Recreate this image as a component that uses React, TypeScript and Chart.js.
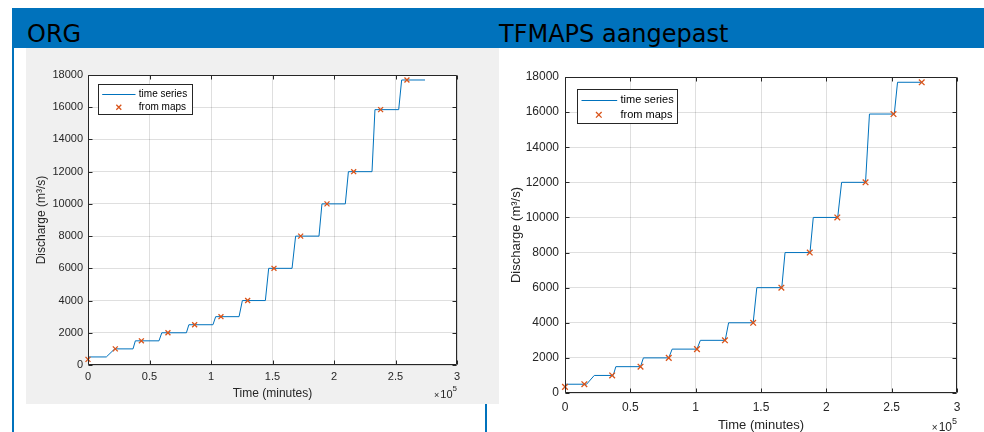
import React, { useEffect, useRef } from "react";
import { Chart, registerables } from "chart.js";

Chart.register(...registerables);

// ---------- DATA ----------
// ORG panel: time series (step curve) vertices
const orgTimes = [0, 14900, 21700, 36600, 38500, 57700, 60000, 80000, 82000, 101600, 103800, 122800, 125500, 144200, 146900, 165900, 168800, 187800, 190200, 209200, 211700, 230900, 233300, 252600, 255000, 274000];
const orgFlows = [500, 500, 1000, 1000, 1500, 1500, 2000, 2000, 2500, 2500, 3000, 3000, 4000, 4000, 6000, 6000, 8000, 8000, 10000, 10000, 12000, 12000, 15850, 15850, 17690, 17690];
// ORG panel: values from maps
const orgMapTimes = [0, 22200, 43400, 65000, 86700, 108100, 129800, 151200, 172900, 194300, 216000, 237900, 259300];
const orgMapFlows = [350, 1000, 1500, 2000, 2500, 3000, 4000, 6000, 8000, 10000, 12000, 15850, 17690];

// TFMAPS aangepast panel: time series
const tfTimes = [0, 16500, 22400, 36900, 38900, 57800, 60000, 79400, 82000, 101000, 103600, 122600, 125200, 144000, 146800, 165900, 168400, 187500, 190000, 208700, 211700, 230000, 233000, 252000, 254500, 272500];
const tfFlows = [500, 500, 1000, 1000, 1500, 1500, 2000, 2000, 2500, 2500, 3000, 3000, 4000, 4000, 6000, 6000, 8000, 8000, 10000, 10000, 12000, 12000, 15890, 15890, 17700, 17700];
// TFMAPS aangepast panel: values from maps
const tfMapTimes = [0, 14800, 36100, 57800, 79400, 101000, 122400, 144000, 165600, 187300, 208400, 230000, 251400, 273000];
const tfMapFlows = [350, 500, 1000, 1500, 2000, 2500, 3000, 4000, 6000, 8000, 10000, 12000, 15890, 17700];

const panelTitles = ["ORG", "TFMAPS aangepast"];
const seriesLabels = ["time series", "from maps"];
const xAxisTitle = "Time (minutes)";
const yAxisTitle = "Discharge (m\u00B3/s)";
const xMin = 0;
const xMax = 300000;
const xStep = 50000;
const xExponent = 5;
const yMin = 0;
const yMax = 18000;
const yStep = 2000;

// ---------- STYLE ----------
const FONT = '"Liberation Sans", Arial, Helvetica, sans-serif';
const AXIS_COLOR = "#262626";
const LINE_COLOR = "#0072BD";
const MARK_COLOR = "#D95319";
const GRID_COLOR = "rgba(38,38,38,0.15)";
const BLUE = "#0072bc";

type Cfg = {
  width: number;
  height: number;
  bg: string;
  pad: { top: number; right: number };
  yWidth: number;
  xHeight: number;
  tickFont: number;
  titleFont: number;
  legendFont: number;
  markerR: number;
  xTickPad: number;
  yTickPad: number;
  xTitlePad: number;
  yTitlePad: number;
  legend: { dx: number; dy: number; w: number; h: number; r1: number; r2: number; l0: number; l1: number; mx: number; tx: number };
  exp: { y10: number; y5: number };
};

const matlabPlugin = {
  id: "matlabDecor",
  beforeDraw(chart: any, _args: any, opts: any) {
    const { ctx, chartArea: a, width, height } = chart;
    ctx.save();
    ctx.fillStyle = opts.bg;
    ctx.fillRect(0, 0, width, height);
    ctx.fillStyle = "#ffffff";
    ctx.fillRect(a.left, a.top, a.right - a.left, a.bottom - a.top);
    ctx.restore();
  },
  afterDraw(chart: any, _args: any, opts: any) {
    const cfg: Cfg = opts.cfg;
    const { ctx, chartArea: a } = chart;
    const xs = chart.scales.x;
    const ys = chart.scales.y;
    const tl = 4;
    ctx.save();
    ctx.strokeStyle = AXIS_COLOR;
    ctx.lineWidth = 1;
    const L = Math.round(a.left) + 0.5;
    const R = Math.round(a.right) - 0.5;
    const T = Math.round(a.top) + 0.5;
    const B = Math.round(a.bottom) - 0.5;
    ctx.beginPath();
    ctx.rect(L, T, R - L, B - T);
    ctx.stroke();
    ctx.beginPath();
    xs.ticks.forEach((t: any) => {
      const px = Math.round(xs.getPixelForValue(t.value)) + 0.5;
      ctx.moveTo(px, B);
      ctx.lineTo(px, B - tl);
      ctx.moveTo(px, T);
      ctx.lineTo(px, T + tl);
    });
    ys.ticks.forEach((t: any) => {
      const py = Math.round(ys.getPixelForValue(t.value)) + 0.5;
      ctx.moveTo(L, py);
      ctx.lineTo(L + tl, py);
      ctx.moveTo(R, py);
      ctx.lineTo(R - tl, py);
    });
    ctx.stroke();

    // exponent label  x10^5
    ctx.fillStyle = AXIS_COLOR;
    ctx.textBaseline = "middle";
    ctx.textAlign = "right";
    const f = cfg.tickFont;
    ctx.font = `${Math.round(f * 0.75)}px ${FONT}`;
    const sup = String(xExponent);
    ctx.fillText(sup, a.right, a.bottom + cfg.exp.y5);
    const wSup = ctx.measureText(sup).width;
    ctx.font = `${f}px ${FONT}`;
    ctx.fillText("10", a.right - wSup, a.bottom + cfg.exp.y10);
    const w10 = ctx.measureText("10").width;
    ctx.font = `${Math.round(f * 0.8)}px ${FONT}`;
    ctx.fillText("\u00D7", a.right - wSup - w10 - 1, a.bottom + cfg.exp.y10 + 0.5);

    // legend
    const lg = cfg.legend;
    const bx = Math.round(a.left + lg.dx) + 0.5;
    const by = Math.round(a.top + lg.dy) + 0.5;
    ctx.fillStyle = "#ffffff";
    ctx.fillRect(bx, by, lg.w, lg.h);
    ctx.strokeStyle = AXIS_COLOR;
    ctx.lineWidth = 1;
    ctx.strokeRect(bx, by, lg.w, lg.h);
    ctx.strokeStyle = LINE_COLOR;
    ctx.beginPath();
    ctx.moveTo(bx + lg.l0, Math.round(by + lg.r1) + 0.5);
    ctx.lineTo(bx + lg.l1, Math.round(by + lg.r1) + 0.5);
    ctx.stroke();
    const m = cfg.markerR * 0.7071;
    const mx = bx + lg.mx;
    const my = by + lg.r2;
    ctx.strokeStyle = MARK_COLOR;
    ctx.lineWidth = 1.3;
    ctx.beginPath();
    ctx.moveTo(mx - m, my - m);
    ctx.lineTo(mx + m, my + m);
    ctx.moveTo(mx - m, my + m);
    ctx.lineTo(mx + m, my - m);
    ctx.stroke();
    ctx.fillStyle = "#000000";
    ctx.textAlign = "left";
    ctx.textBaseline = "middle";
    ctx.font = `${cfg.legendFont}px ${FONT}`;
    ctx.fillText(seriesLabels[0], bx + lg.tx, by + lg.r1);
    ctx.fillText(seriesLabels[1], bx + lg.tx, by + lg.r2);
    ctx.restore();
  },
};

function MatlabChart(props: {
  cfg: Cfg;
  times: number[];
  flows: number[];
  mapTimes: number[];
  mapFlows: number[];
  style: React.CSSProperties;
}) {
  const ref = useRef<HTMLCanvasElement | null>(null);
  const { cfg, times, flows, mapTimes, mapFlows, style } = props;
  useEffect(() => {
    if (!ref.current) return;
    const chart = new Chart(ref.current, {
      type: "scatter",
      data: {
        datasets: [
          {
            label: seriesLabels[1],
            data: mapTimes.map((t, i) => ({ x: t, y: mapFlows[i] })),
            showLine: false,
            pointStyle: "crossRot",
            pointRadius: cfg.markerR,
            pointHoverRadius: cfg.markerR,
            borderColor: MARK_COLOR,
            backgroundColor: MARK_COLOR,
            pointBorderWidth: 1.3,
            borderWidth: 1.3,
            clip: false,
            order: 0,
          },
          {
            label: seriesLabels[0],
            data: times.map((t, i) => ({ x: t, y: flows[i] })),
            showLine: true,
            borderColor: LINE_COLOR,
            backgroundColor: LINE_COLOR,
            borderWidth: 1,
            pointRadius: 0,
            pointHoverRadius: 0,
            tension: 0,
            fill: false,
            order: 1,
          },
        ],
      },
      options: {
        responsive: false,
        animation: false,
        devicePixelRatio: 1,
        events: [],
        layout: { padding: { left: 0, top: cfg.pad.top, right: cfg.pad.right, bottom: 0 } },
        plugins: {
          legend: { display: false },
          tooltip: { enabled: false },
          matlabDecor: { bg: cfg.bg, cfg },
        } as any,
        scales: {
          x: {
            type: "linear",
            min: xMin,
            max: xMax,
            afterFit: (s: any) => {
              s.height = cfg.xHeight;
            },
            border: { display: false },
            grid: { color: GRID_COLOR, lineWidth: 1, drawTicks: false },
            ticks: {
              stepSize: xStep,
              padding: cfg.xTickPad,
              color: AXIS_COLOR,
              font: { family: FONT, size: cfg.tickFont },
              maxRotation: 0,
              autoSkip: false,
              callback: (v: any) => String(Number(v) / Math.pow(10, xExponent)),
            },
            title: {
              display: true,
              text: xAxisTitle,
              color: AXIS_COLOR,
              font: { family: FONT, size: cfg.titleFont, lineHeight: 1 },
              padding: { top: 0, bottom: cfg.xTitlePad },
            },
          },
          y: {
            type: "linear",
            min: yMin,
            max: yMax,
            afterFit: (s: any) => {
              s.width = cfg.yWidth;
            },
            border: { display: false },
            grid: { color: GRID_COLOR, lineWidth: 1, drawTicks: false },
            ticks: {
              stepSize: yStep,
              padding: cfg.yTickPad,
              color: AXIS_COLOR,
              font: { family: FONT, size: cfg.tickFont },
              autoSkip: false,
              callback: (v: any) => String(v),
            },
            title: {
              display: true,
              text: yAxisTitle,
              color: AXIS_COLOR,
              font: { family: FONT, size: cfg.titleFont, lineHeight: 1 },
              padding: { top: cfg.yTitlePad, bottom: 0 },
            },
          },
        },
      },
      plugins: [matlabPlugin as any],
    } as any);
    return () => chart.destroy();
  }, []);
  return (
    <canvas
      ref={ref}
      width={cfg.width}
      height={cfg.height}
      style={{ position: "absolute", width: cfg.width, height: cfg.height, display: "block", ...style }}
    />
  );
}

const leftCfg: Cfg = {
  width: 473,
  height: 356,
  bg: "#f0f0f0",
  pad: { top: 27, right: 42 },
  yWidth: 62,
  xHeight: 39,
  tickFont: 11,
  titleFont: 12,
  legendFont: 10,
  markerR: 3.5,
  xTickPad: 5,
  yTickPad: 5,
  xTitlePad: 4,
  yTitlePad: 10,
  legend: { dx: 10, dy: 9, w: 94, h: 30, r1: 9.3, r2: 22.7, l0: 3.7, l1: 37, mx: 20.3, tx: 40.3 },
  exp: { y10: 30, y5: 24 },
};

const rightCfg: Cfg = {
  width: 485,
  height: 384,
  bg: "#ffffff",
  pad: { top: 29, right: 27 },
  yWidth: 66,
  xHeight: 39,
  tickFont: 12,
  titleFont: 13,
  legendFont: 11,
  markerR: 4,
  xTickPad: 7,
  yTickPad: 6,
  xTitlePad: 0,
  yTitlePad: 10.5,
  legend: { dx: 12, dy: 12, w: 100, h: 34, r1: 10, r2: 25.3, l0: 4, l1: 39.7, mx: 21.3, tx: 43 },
  exp: { y10: 35, y5: 28.5 },
};

export default function App() {
  const titleStyle: React.CSSProperties = {
    position: "absolute",
    top: 22,
    fontFamily: '"DejaVu Sans", Verdana, sans-serif',
    fontSize: 24,
    lineHeight: "24px",
    color: "#000000",
    whiteSpace: "nowrap",
  };
  return (
    <div style={{ position: "absolute", left: 0, top: 0, width: 984, height: 432, background: "#ffffff", overflow: "hidden" }}>
      <div style={{ position: "absolute", left: 12, top: 8, width: 972, height: 40, background: BLUE }} />
      <div style={{ position: "absolute", left: 12, top: 48, width: 2, height: 384, background: BLUE }} />
      <div style={{ position: "absolute", left: 485, top: 404, width: 2, height: 28, background: BLUE }} />
      <div style={{ ...titleStyle, left: 27 }}>{panelTitles[0]}</div>
      <div style={{ ...titleStyle, left: 499 }}>{panelTitles[1]}</div>
      <MatlabChart cfg={leftCfg} times={orgTimes} flows={orgFlows} mapTimes={orgMapTimes} mapFlows={orgMapFlows} style={{ left: 26, top: 48 }} />
      <MatlabChart cfg={rightCfg} times={tfTimes} flows={tfFlows} mapTimes={tfMapTimes} mapFlows={tfMapFlows} style={{ left: 499, top: 48 }} />
    </div>
  );
}
